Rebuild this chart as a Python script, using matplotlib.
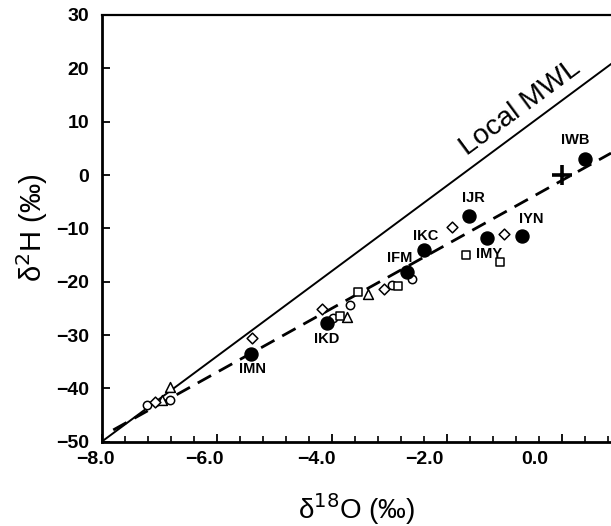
import numpy as np
import matplotlib.pyplot as plt
from matplotlib.transforms import ScaledTranslation

plt.rcParams['font.family'] = ['Liberation Sans', 'DejaVu Sans']

# d2H = slope * d18O + intercept
mwl_slope, mwl_icpt = 8.0, 14.0
fit_slope, fit_icpt = 6.0, -1.0

# labelled sites
site_names = ['IWB', 'IJR', 'IYN', 'IMY', 'IKC', 'IFM', 'IKD', 'IMN']
site_o18 = [0.40, -1.61, -0.70, -1.31, -2.40, -2.70, -4.09, -5.41]
site_h2 = [3.0, -7.7, -11.4, -11.9, -14.0, -18.2, -27.8, -33.6]

# other samples
circ_o18 = [-7.22, -6.82, -3.98, -3.69, -2.96, -2.61]
circ_h2 = [-43.2, -42.2, -26.9, -24.4, -20.7, -19.5]
tri_o18 = [-6.96, -6.82, -3.74, -3.37]
tri_h2 = [-42.2, -39.7, -26.6, -22.4]
dia_o18 = [-7.08, -5.39, -4.18, -3.10, -1.91, -1.01]
dia_h2 = [-42.6, -30.6, -25.2, -21.3, -9.7, -11.0]
sq_o18 = [-3.86, -3.54, -2.85, -1.67, -1.08]
sq_h2 = [-26.5, -22.0, -20.8, -15.0, -16.3]
smow_o18, smow_h2 = [0.0], [0.0]

# label offsets (points) for each site name
lab_dx = [-7, 3, 7, 2, 1, -5, 0, 1]
lab_dy = [14, 13, 12, -11, 10, 10, -11, -11]

fig = plt.figure(figsize=(6.11, 5.26), dpi=100)
ax = fig.add_axes([0.1665, 0.1603, 0.8335, 0.8112])
ax.set_xlim(-8.0, 0.85)
ax.set_ylim(-50, 30)

xl = np.array([-8.0, 0.85])
ax.plot(xl, mwl_slope * xl + mwl_icpt, color='black', lw=1.4, zorder=2)
xf = np.array([-7.8, 0.85])
ax.plot(xf, fit_slope * xf + fit_icpt, color='black', lw=2.0,
        linestyle=(0, (5.5, 3.2)), zorder=2)

mk = dict(facecolor='white', edgecolor='black', linewidths=1.1, zorder=3)
ax.scatter(circ_o18, circ_h2, marker='o', s=36, **mk)
ax.scatter(tri_o18, tri_h2, marker='^', s=50, **mk)
ax.scatter(dia_o18, dia_h2, marker='D', s=30, **mk)
ax.scatter(sq_o18, sq_h2, marker='s', s=34, **mk)
ax.scatter(site_o18, site_h2, marker='o', s=88, color='black', zorder=4)
ax.plot(smow_o18, smow_h2, marker='+', ms=14, mew=2.6, color='black',
        linestyle='none', zorder=4)

for name, x, y, dx, dy in zip(site_names, site_o18, site_h2, lab_dx, lab_dy):
    ax.annotate(name, (x, y), xytext=(dx, dy), textcoords='offset points',
                ha='center', va='center', fontsize=10.5, fontweight='bold')

ax.text(-0.72, 12.6, 'Local MWL', fontsize=20.5, rotation=36.5,
        rotation_mode='anchor', ha='center', va='center')

ax.set_xticks([-8.0, -6.0, -4.0, -2.0, 0.0])
ax.set_xticklabels(['\u22128.0', '\u22126.0', '\u22124.0', '\u22122.0', '0.0'])
ax.set_xticks(np.arange(-7.6, 0.85, 0.4), minor=True)
ax.set_yticks(np.arange(-50, 31, 10))
ax.tick_params(axis='both', which='major', direction='in', length=6,
               width=1.3, labelsize=14, pad=9)
ax.tick_params(axis='x', which='minor', direction='in', length=4, width=1.2)
ax.tick_params(axis='x', which='major', pad=7)
for lab in ax.get_xticklabels() + ax.get_yticklabels():
    lab.set_fontweight('bold')

for side in ['left', 'bottom']:
    ax.spines[side].set_linewidth(2.0)
ax.spines['top'].set_linewidth(1.6)
ax.spines['right'].set_visible(False)

ax.set_xlabel('\u03b4$^{18}$O (\u2030)', fontsize=20)
ax.set_ylabel('\u03b4$^{2}$H (\u2030)', fontsize=21)
ax.xaxis.set_label_coords(0.5, -0.115)
ax.yaxis.set_label_coords(-0.1015, 0.5)

fig.canvas.draw()
# tick labels sit slightly left of their ticks
shift_px = [-6, -12, -16, -23, -27]
for lab, dx in zip(ax.get_xticklabels(), shift_px):
    lab.set_transform(lab.get_transform() + ScaledTranslation(dx / 100, 0, fig.dpi_scale_trans))

fig.savefig('out.png', dpi=100)
